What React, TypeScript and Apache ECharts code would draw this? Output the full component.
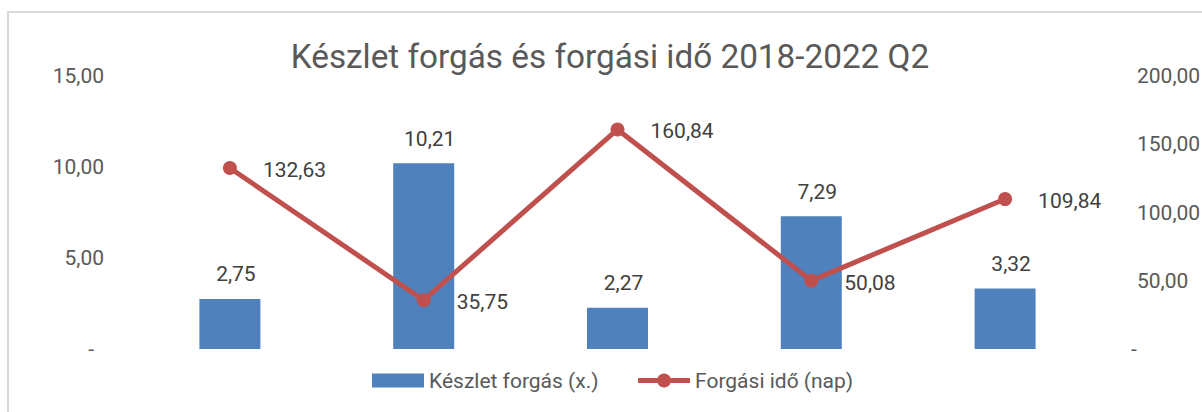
import React, { useEffect, useRef } from "react";
import * as echarts from "echarts";

const titleText = "Készlet forgás és forgási idő 2018-2022 Q2";
const categories = ["2018", "2019", "2020", "2021", "2022 Q2"];
const barName = "Készlet forgás (x.)";
const lineName = "Forgási idő (nap)";
const turnover = [2.75, 10.21, 2.27, 7.29, 3.32];
const days = [132.63, 35.75, 160.84, 50.08, 109.84];

const fmt = (v: number) => (v === 0 ? "-" : v.toFixed(2).replace(".", ","));

export default function App() {
  const ref = useRef<HTMLDivElement>(null);
  useEffect(() => {
    if (!ref.current) return;
    const chart = echarts.init(ref.current, null, { renderer: "svg" });
    const font = "Roboto";
    chart.setOption({
      animation: false,
      textStyle: { fontFamily: font },
      title: {
        text: titleText,
        left: "center",
        top: 27,
        padding: 0,
        textStyle: { fontFamily: font, fontSize: 33.3, fontWeight: "normal", color: "#595959" },
      },
      legend: {
        left: 363,
        top: 357,
        padding: 0,
        itemWidth: 52,
        itemHeight: 17.5,
        itemGap: 37,
        textStyle: { fontFamily: font, fontSize: 21, color: "#595959" },
        data: [
          { name: barName, icon: "path://M0,0h52v14h-52z" },
          { name: lineName, lineStyle: { width: 5 } },
        ],
      },
      grid: { left: 124, right: 109, top: 63, bottom: 72, outerBoundsMode: "none" },
      xAxis: {
        type: "category",
        data: categories,
        show: false,
      },
      yAxis: [
        {
          type: "value",
          min: 0,
          max: 15,
          interval: 5,
          splitLine: { show: false },
          axisLine: { show: false },
          axisTick: { show: false },
          axisLabel: {
            margin: 29,
            fontFamily: font,
            fontSize: 21,
            color: "#595959",
            formatter: (v: number) => (v === 0 ? "{d|-}" : fmt(v)),
            rich: { d: { fontFamily: font, fontSize: 21, color: "#595959", padding: [0, 10, 0, 0] } },
          },
        },
        {
          type: "value",
          min: 0,
          max: 200,
          interval: 50,
          splitLine: { show: false },
          axisLine: { show: false },
          axisTick: { show: false },
          axisLabel: {
            margin: 29,
            fontFamily: font,
            fontSize: 21,
            color: "#595959",
            formatter: (v: number) => (v === 0 ? "{d|-}" : "{n|" + fmt(v) + "}"),
            rich: {
              d: { fontFamily: font, fontSize: 21, color: "#595959" },
              n: { fontFamily: font, fontSize: 21, color: "#595959", padding: [0, 0, 0, 6] },
            },
          },
        },
      ],
      series: [
        {
          name: barName,
          type: "bar",
          data: turnover,
          barWidth: 61,
          itemStyle: { color: "#4F81BD" },
          label: {
            show: true,
            position: "top",
            distance: 14,
            offset: [6, 0],
            fontFamily: font,
            fontSize: 21,
            color: "#404040",
            formatter: (p: any) => fmt(p.value),
          },
        },
        {
          name: lineName,
          type: "line",
          yAxisIndex: 1,
          data: days,
          symbol: "circle",
          symbolSize: 14,
          lineStyle: { color: "#C0504D", width: 5 },
          itemStyle: { color: "#C0504D" },
          label: {
            show: true,
            position: "right",
            distance: 26,
            offset: [0, 2],
            fontFamily: font,
            fontSize: 21,
            color: "#404040",
            formatter: (p: any) => fmt(p.value),
          },
        },
      ],
    });
    return () => chart.dispose();
  }, []);
  return (
    <div
      style={{
        position: "fixed",
        left: 0,
        top: 0,
        width: 1202,
        height: 412,
        overflow: "hidden",
        background: "#ffffff",
      }}
    >
      <div
        ref={ref}
        style={{
          position: "absolute",
          left: 7,
          top: 11,
          width: 1206,
          height: 412,
          border: "2px solid #d9d9d9",
          boxSizing: "border-box",
          background: "#ffffff",
        }}
      />
    </div>
  );
}
